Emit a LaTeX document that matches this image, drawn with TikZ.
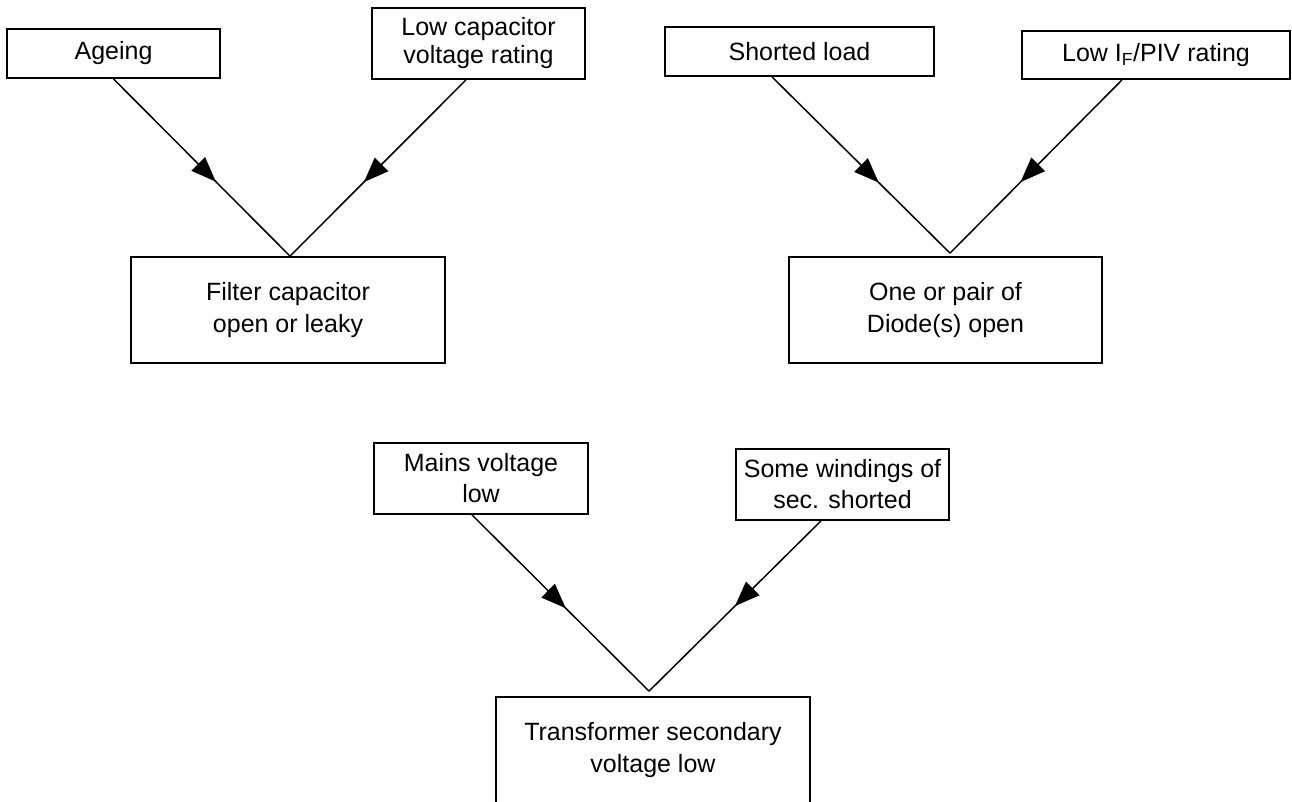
\documentclass[tikz,border=0pt]{standalone}
\usepackage{fontspec}
\setmainfont{Liberation Sans}
\usetikzlibrary{arrows.meta,decorations.markings}
\tikzset{
  >={Triangle[length=25pt,width=19pt]},
  cause/.style={
    draw, rectangle, align=center, inner sep=0pt, line width=1.8pt,
    font=\fontsize{25}{31}\selectfont,
    minimum width=213pt, minimum height=49pt
  },
  fault/.style={
    draw, rectangle, align=center, inner sep=0pt, line width=1.8pt,
    font=\fontsize{25}{32}\selectfont,
    minimum width=314pt, minimum height=106pt
  },
  feed/.style={
    line width=1.5pt, postaction={decorate},
    decoration={markings, mark=at position #1 with {\arrow{>}}}
  },
  feed/.default=0.58,
}
\begin{document}
\begin{tikzpicture}[x=1pt, y=-1pt]
  \useasboundingbox (0,0) rectangle (1292,801);
  % causes and faults
  \node[cause] (ageing) at (113.5,53.5) {Ageing};
  \node[cause, minimum height=71pt, font=\fontsize{25}{28}\selectfont] (lowcap) at (478.5,43.5) {Low capacitor\\voltage rating};
  \node[fault] (filter) at (288,310) {Filter capacitor\\open or leaky};
  \node[cause, minimum width=269pt] (shorted) at (799.5,51.5) {Shorted load};
  \node[cause, minimum width=268pt, minimum height=48pt] (lowif) at (1156,55) {Low I\textsubscript{F}/PIV rating};
  \node[fault, minimum width=313pt] (diode) at (945.5,310) {One or pair of\\Diode(s) open};
  \node[cause, minimum width=214pt, minimum height=71pt] (mains) at (481,478.5) {Mains voltage\\low};
  \node[cause, minimum height=71pt] (windings) at (842.5,484.5) {Some windings of\\sec. shorted};
  \node[fault] (trans) at (653,750) {Transformer secondary\\voltage low};
  % connectors
  \draw[feed] (ageing.south) -- ([xshift=2pt]filter.north);
  \draw[feed] ([xshift=-12.5pt]lowcap.south) -- ([xshift=2pt]filter.north);
  \draw[feed=0.6] ([xshift=-27.5pt]shorted.south) -- ([xshift=4.5pt,yshift=3pt]diode.north);
  \draw[feed=0.59] ([xshift=-34pt]lowif.south) -- ([xshift=4.5pt,yshift=3pt]diode.north);
  \draw[feed=0.53] ([xshift=-9pt]mains.south) -- ([xshift=-4pt,yshift=5pt]trans.north);
  \draw[feed=0.5] ([xshift=-21.5pt]windings.south) -- ([xshift=-4pt,yshift=5pt]trans.north);
\end{tikzpicture}
\end{document}
